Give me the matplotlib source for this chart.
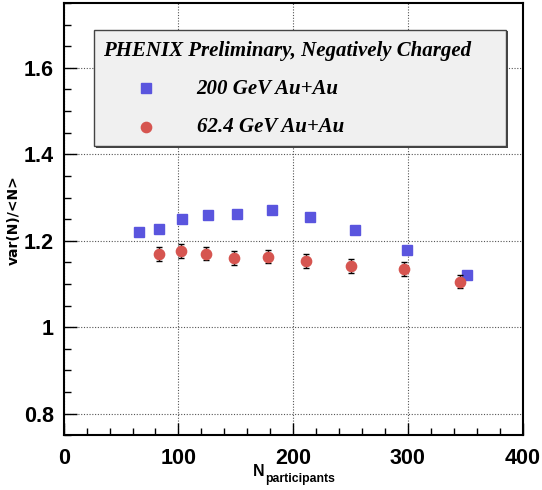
import matplotlib
matplotlib.use("Agg")
import matplotlib.pyplot as plt
from matplotlib.lines import Line2D
from matplotlib.patches import Rectangle
from matplotlib.ticker import MultipleLocator, FormatStrFormatter

plt.rcParams['font.family'] = ['Liberation Sans', 'DejaVu Sans']

# 200 GeV Au+Au (blue squares)
npart_200 = [65.9, 83.1, 102.8, 125.8, 151.3, 181.5, 214.9, 253.9, 298.9, 351.5]
ratio_200 = [1.220, 1.228, 1.250, 1.259, 1.262, 1.270, 1.256, 1.226, 1.178, 1.121]

# 62.4 GeV Au+Au (red circles)
npart_62 = [83.1, 102.0, 123.7, 148.4, 177.8, 210.9, 250.1, 296.3, 345.1]
ratio_62 = [1.169, 1.176, 1.170, 1.160, 1.163, 1.153, 1.142, 1.135, 1.105]
err_62 = [0.016, 0.016, 0.015, 0.016, 0.015, 0.016, 0.016, 0.016, 0.015]

legend_title = "PHENIX Preliminary, Negatively Charged"
label_200 = "200 GeV Au+Au"
label_62 = "62.4 GeV Au+Au"

blue = '#5a55de'
red = '#d65550'

fig = plt.figure(figsize=(5.42, 4.90), dpi=100)
ax = fig.add_axes([0.1175, 0.1118, 0.8469, 0.8820])

ax.set_xlim(0, 400)
ax.set_ylim(0.75, 1.75)

# grid at major ticks
ax.grid(True, which='major', linestyle=(0, (1, 1.5)), color='#555555', linewidth=0.8)
ax.set_axisbelow(True)

ax.plot(npart_200, ratio_200, linestyle='none', marker='s', markersize=7.2,
        color=blue, markeredgecolor=blue, zorder=3)
ax.errorbar(npart_62, ratio_62, yerr=err_62, fmt='o', markersize=7.4,
            color=red, ecolor='black', elinewidth=1.0, capsize=2.0, capthick=1.0, zorder=3)

# ticks
ax.xaxis.set_major_locator(MultipleLocator(100))
ax.xaxis.set_minor_locator(MultipleLocator(20))
ax.yaxis.set_major_locator(MultipleLocator(0.2))
ax.yaxis.set_minor_locator(MultipleLocator(0.05))
ax.yaxis.set_major_formatter(FormatStrFormatter('%g'))
ax.tick_params(which='both', direction='in', top=False, right=False, width=1.0)
ax.tick_params(which='major', length=9, labelsize=15.5, pad=7)
ax.tick_params(which='minor', length=5)
ax.tick_params(axis='x', which='major', pad=9)
for lab in ax.get_xticklabels() + ax.get_yticklabels():
    lab.set_fontweight('bold')
for s in ax.spines.values():
    s.set_linewidth(1.5)

fig.text(14 / 542, 1 - 220 / 490, "var(N)/<N>", family='DejaVu Sans', fontsize=10,
         fontweight='bold', rotation=90, ha='center', va='center')
fig.text(252.5 / 542, 1 - 475.7 / 490, "N", fontsize=11.5, fontweight='bold',
         ha='left', va='baseline')
fig.text(265 / 542, 1 - 481.5 / 490, "participants", fontsize=8.8, fontweight='bold',
         ha='left', va='baseline')

# legend box (ROOT style)
box_x, box_y, box_w, box_h = 94.3 / 542, 1 - 146 / 490, (506 - 94.3) / 542, 116 / 490
fig.patches.append(Rectangle((box_x + 1.5 / 542, box_y - 1.5 / 490), box_w, box_h,
                             transform=fig.transFigure, facecolor='#444444',
                             edgecolor='none', zorder=4))
fig.patches.append(Rectangle((box_x, box_y), box_w, box_h, transform=fig.transFigure,
                             facecolor='#f0f0f0', edgecolor='#444444', linewidth=1.0, zorder=5))

serif = ['Liberation Serif', 'DejaVu Serif']
fig.text(103 / 542, 1 - 50.7 / 490, legend_title, family=serif, style='italic',
         fontweight='bold', fontsize=15, va='center', ha='left', zorder=6)
fig.text(196.7 / 542, 1 - 89 / 490, label_200, family=serif, style='italic',
         fontweight='bold', fontsize=15, va='center', ha='left', zorder=6)
fig.text(196.7 / 542, 1 - 127.3 / 490, label_62, family=serif, style='italic',
         fontweight='bold', fontsize=15, va='center', ha='left', zorder=6)
fig.lines.append(Line2D([145.7 / 542], [1 - 88.3 / 490], transform=fig.transFigure,
                        linestyle='none', marker='s', markersize=7.2, color=blue, zorder=6))
fig.lines.append(Line2D([145.7 / 542], [1 - 127.3 / 490], transform=fig.transFigure,
                        linestyle='none', marker='o', markersize=7.4, color=red, zorder=6))

fig.savefig("out.png", dpi=100)
